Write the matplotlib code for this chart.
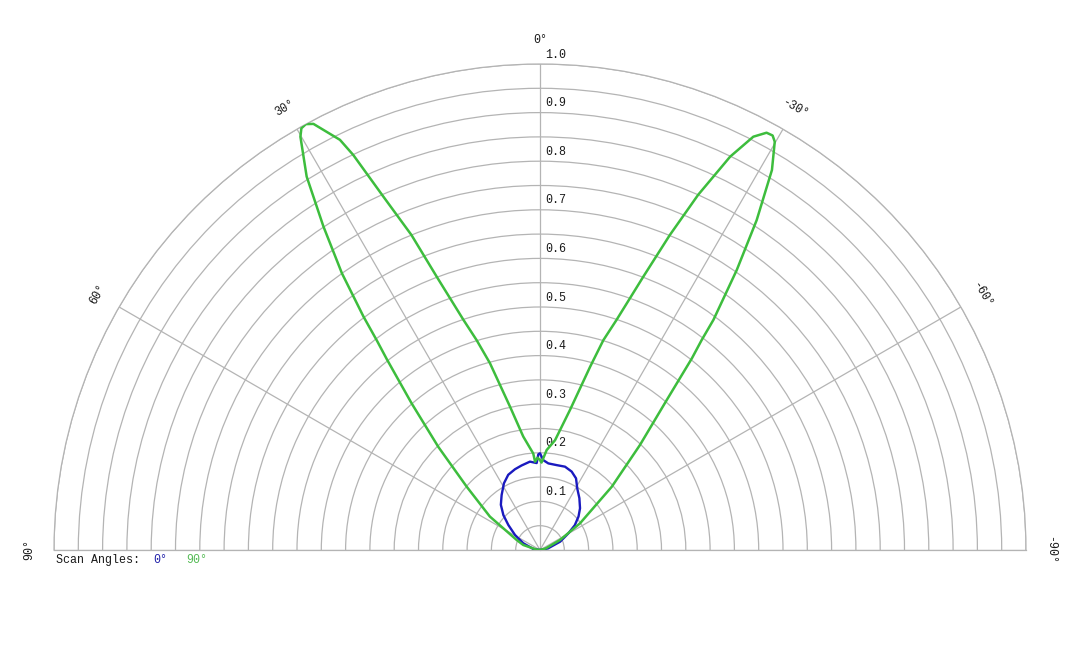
import numpy as np
import matplotlib
matplotlib.use("Agg")
import matplotlib.pyplot as plt


# =========================
# DATA (degrees, positive = left of 0)
# =========================
green_theta = [90, 82, 73.3, 66.8, 56.3, 49.2, 44.6, 41.2, 38.75, 37.9, 37.1,
               35.6, 33.8, 32.0, 30.1, 29.5, 28.8, 28.0, 26.0, 25.3, 23.9,
               22.2, 20.7, 18.4, 16.8, 15.0, 11.8, 8.4, 4.0, 3.2, 1.5, 0,
               -1.0, -3.8, -7.8, -12.1, -15.3, -16.8, -18.4, -20.7, -22.4,
               -24.0, -25.8, -27.3, -28.5, -29.3, -29.9, -31.4, -33.3, -35.1,
               -37.0, -37.6, -38.4, -40.2, -43.6, -48.6, -56.3, -63.4, -75,
               -90]
green_r = [0.0, 0.008, 0.036, 0.052, 0.124, 0.199, 0.298, 0.401, 0.504, 0.547,
           0.602, 0.700, 0.801, 0.906, 0.983, 0.997, 1.0, 0.993, 0.939, 0.899,
           0.795, 0.700, 0.601, 0.499, 0.451, 0.398, 0.301, 0.236, 0.199,
           0.182, 0.19, 0.185, 0.18, 0.206, 0.228, 0.295, 0.391, 0.451, 0.499,
           0.601, 0.701, 0.800, 0.899, 0.957, 0.977, 0.978, 0.969, 0.916,
           0.812, 0.704, 0.593, 0.545, 0.503, 0.404, 0.298, 0.197, 0.099,
           0.046, 0.012, 0.0]

blue_theta = [90, 81, 68, 59, 51.7, 46.4, 40.9, 34.9, 28.4, 22.9, 17.2, 12.3,
              6.5, 2.2, 1.0, 0, -2.1, -5.5, -11.1, -16.7, -22, -26.7, -31.2,
              -37.2, -43.8, -49, -54.5, -59.5, -67.5, -78.4, -90]
blue_r = [0.0, 0.014, 0.037, 0.060, 0.083, 0.104, 0.123, 0.138, 0.156, 0.168,
          0.174, 0.178, 0.183, 0.179, 0.197, 0.199, 0.185, 0.179, 0.178,
          0.179, 0.174, 0.165, 0.148, 0.134, 0.119, 0.105, 0.088, 0.068,
          0.045, 0.017, 0.0]

ring_values = np.arange(0.05, 1.0001, 0.05)
ring_labels = ["0.1", "0.2", "0.3", "0.4", "0.5", "0.6", "0.7", "0.8", "0.9", "1.0"]
spoke_angles = [-90, -60, -30, 0, 30, 60, 90]
spoke_labels = ["-90°", "-60°", "-30°", "0°", "30°", "60°", "90°"]

GRID = "#b4b4b4"
GREEN = "#3dbd3d"
BLUE = "#1a1abf"
FONT = ["Liberation Mono", "DejaVu Sans Mono"]
FS = 8.4

plt.rcParams["font.family"] = FONT

fig = plt.figure(figsize=(10.8, 6.48), dpi=100)
# square box: the half disc sits centred in it, baseline at 98 px from bottom
ax = fig.add_axes([54 / 1080, (98 - 243) / 648, 972 / 1080, 972 / 648],
                  projection="polar")
ax.set_theta_zero_location("N")
ax.set_theta_direction(1)
ax.set_thetamin(-90)
ax.set_thetamax(90)
ax.set_ylim(0, 1.0)

ax.set_yticks(ring_values)
ax.set_yticklabels([])
ax.set_xticks(np.deg2rad(spoke_angles))
ax.set_xticklabels([])
ax.grid(True, color=GRID, linewidth=0.9)
for name, sp in ax.spines.items():
    sp.set_color(GRID)
    sp.set_linewidth(0.9)

blue_line, = ax.plot(np.deg2rad(blue_theta), blue_r, color=BLUE,
                     linewidth=1.7, zorder=3, solid_joinstyle="round")
green_line, = ax.plot(np.deg2rad(green_theta), green_r, color=GREEN,
                      linewidth=1.8, zorder=4, solid_joinstyle="round")
# let the polar transform bend the segments between samples
blue_line._interpolation_steps = 12
green_line._interpolation_steps = 12

# radial labels
for i, lab in enumerate(ring_labels):
    r = (i + 1) * 0.1
    ax.annotate(lab, xy=(0, r), xytext=(3.5, 2.5), textcoords="offset points",
                ha="left", va="bottom", fontsize=FS, color="#1a1a1a")

# angle labels
for ang, lab in zip(spoke_angles, spoke_labels):
    ax.text(np.deg2rad(ang), 1.05, lab, rotation=ang, rotation_mode="anchor",
            ha="center", va="center", fontsize=FS, color="#1a1a1a", clip_on=False)

# legend line
fig.text(56 / 1080, 1 - 560 / 648, "Scan Angles:", ha="left", va="center",
         fontsize=FS, color="#1a1a1a")
fig.text(153 / 1080, 1 - 560 / 648, "0°", ha="left", va="center",
         fontsize=FS, color="#2222aa")
fig.text(186 / 1080, 1 - 560 / 648, "90°", ha="left", va="center",
         fontsize=FS, color="#55bb55")

fig.savefig("out.png", dpi=100)
